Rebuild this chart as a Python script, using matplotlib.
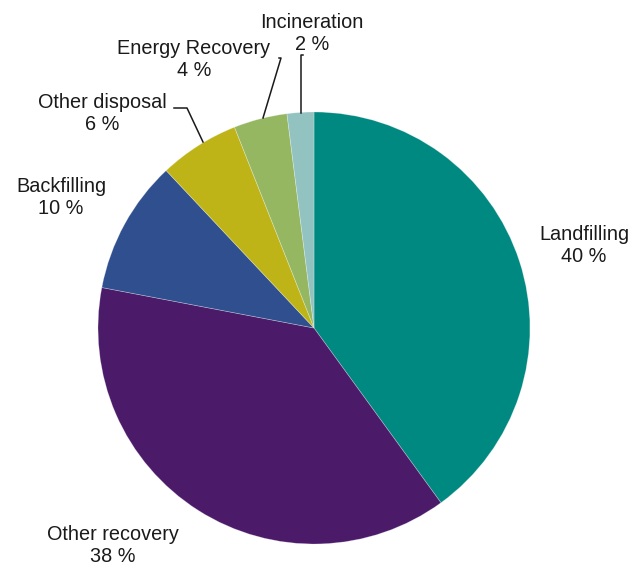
import matplotlib
matplotlib.use("Agg")

import matplotlib.pyplot as plt

# Waste treatment shares (%), clockwise from 12 o'clock
categories = ["Landfilling", "Other recovery", "Backfilling",
              "Other disposal", "Energy Recovery", "Incineration"]
shares = [40, 38, 10, 6, 4, 2]
colors = ["#008981", "#4B1B6A", "#2F4F8F", "#BFB417", "#95B762", "#93C3C1"]

# label anchor (centre of text block) in pixel coords, y from top
label_pos = {
    "Landfilling": (584, 246),
    "Other recovery": (113, 546),
    "Backfilling": (61, 198),
    "Other disposal": (102, 114),
    "Energy Recovery": (194, 60),
    "Incineration": (312, 34),
}
# leader lines (pixel coords, y from top)
leaders = {
    "Other disposal": [(203, 142), (187, 108), (174, 108)],
    "Energy Recovery": [(263, 118), (281, 58), (279, 58)],
    "Incineration": [(301, 113), (301, 55), (303, 55)],
}

W, H = 632, 568
fig = plt.figure(figsize=(W / 100, H / 100), dpi=100)
ax = fig.add_axes([0, 0, 1, 1])

cx, cy, r = 314, 328, 216
ax.pie(shares, colors=colors, startangle=90, counterclock=False,
       center=(cx, H - cy), radius=r, frame=True,
       wedgeprops=dict(edgecolor=(1, 1, 1, 0.35), linewidth=0.5))
ax.set_xlim(0, W)
ax.set_ylim(0, H)
ax.set_aspect("equal")
ax.axis("off")

for cat, val in zip(categories, shares):
    x, y = label_pos[cat]
    ax.text(x, H - y, f"{cat}\n{val} %", ha="center", va="center",
            multialignment="center", fontsize=14.3, color="#1a1a1a",
            family="Liberation Sans", linespacing=1.2)

for cat, pts in leaders.items():
    xs = [p[0] for p in pts]
    ys = [H - p[1] for p in pts]
    ax.plot(xs, ys, color="#1a1a1a", linewidth=1.1)

fig.savefig("out.png", dpi=100)
plt.close(fig)
